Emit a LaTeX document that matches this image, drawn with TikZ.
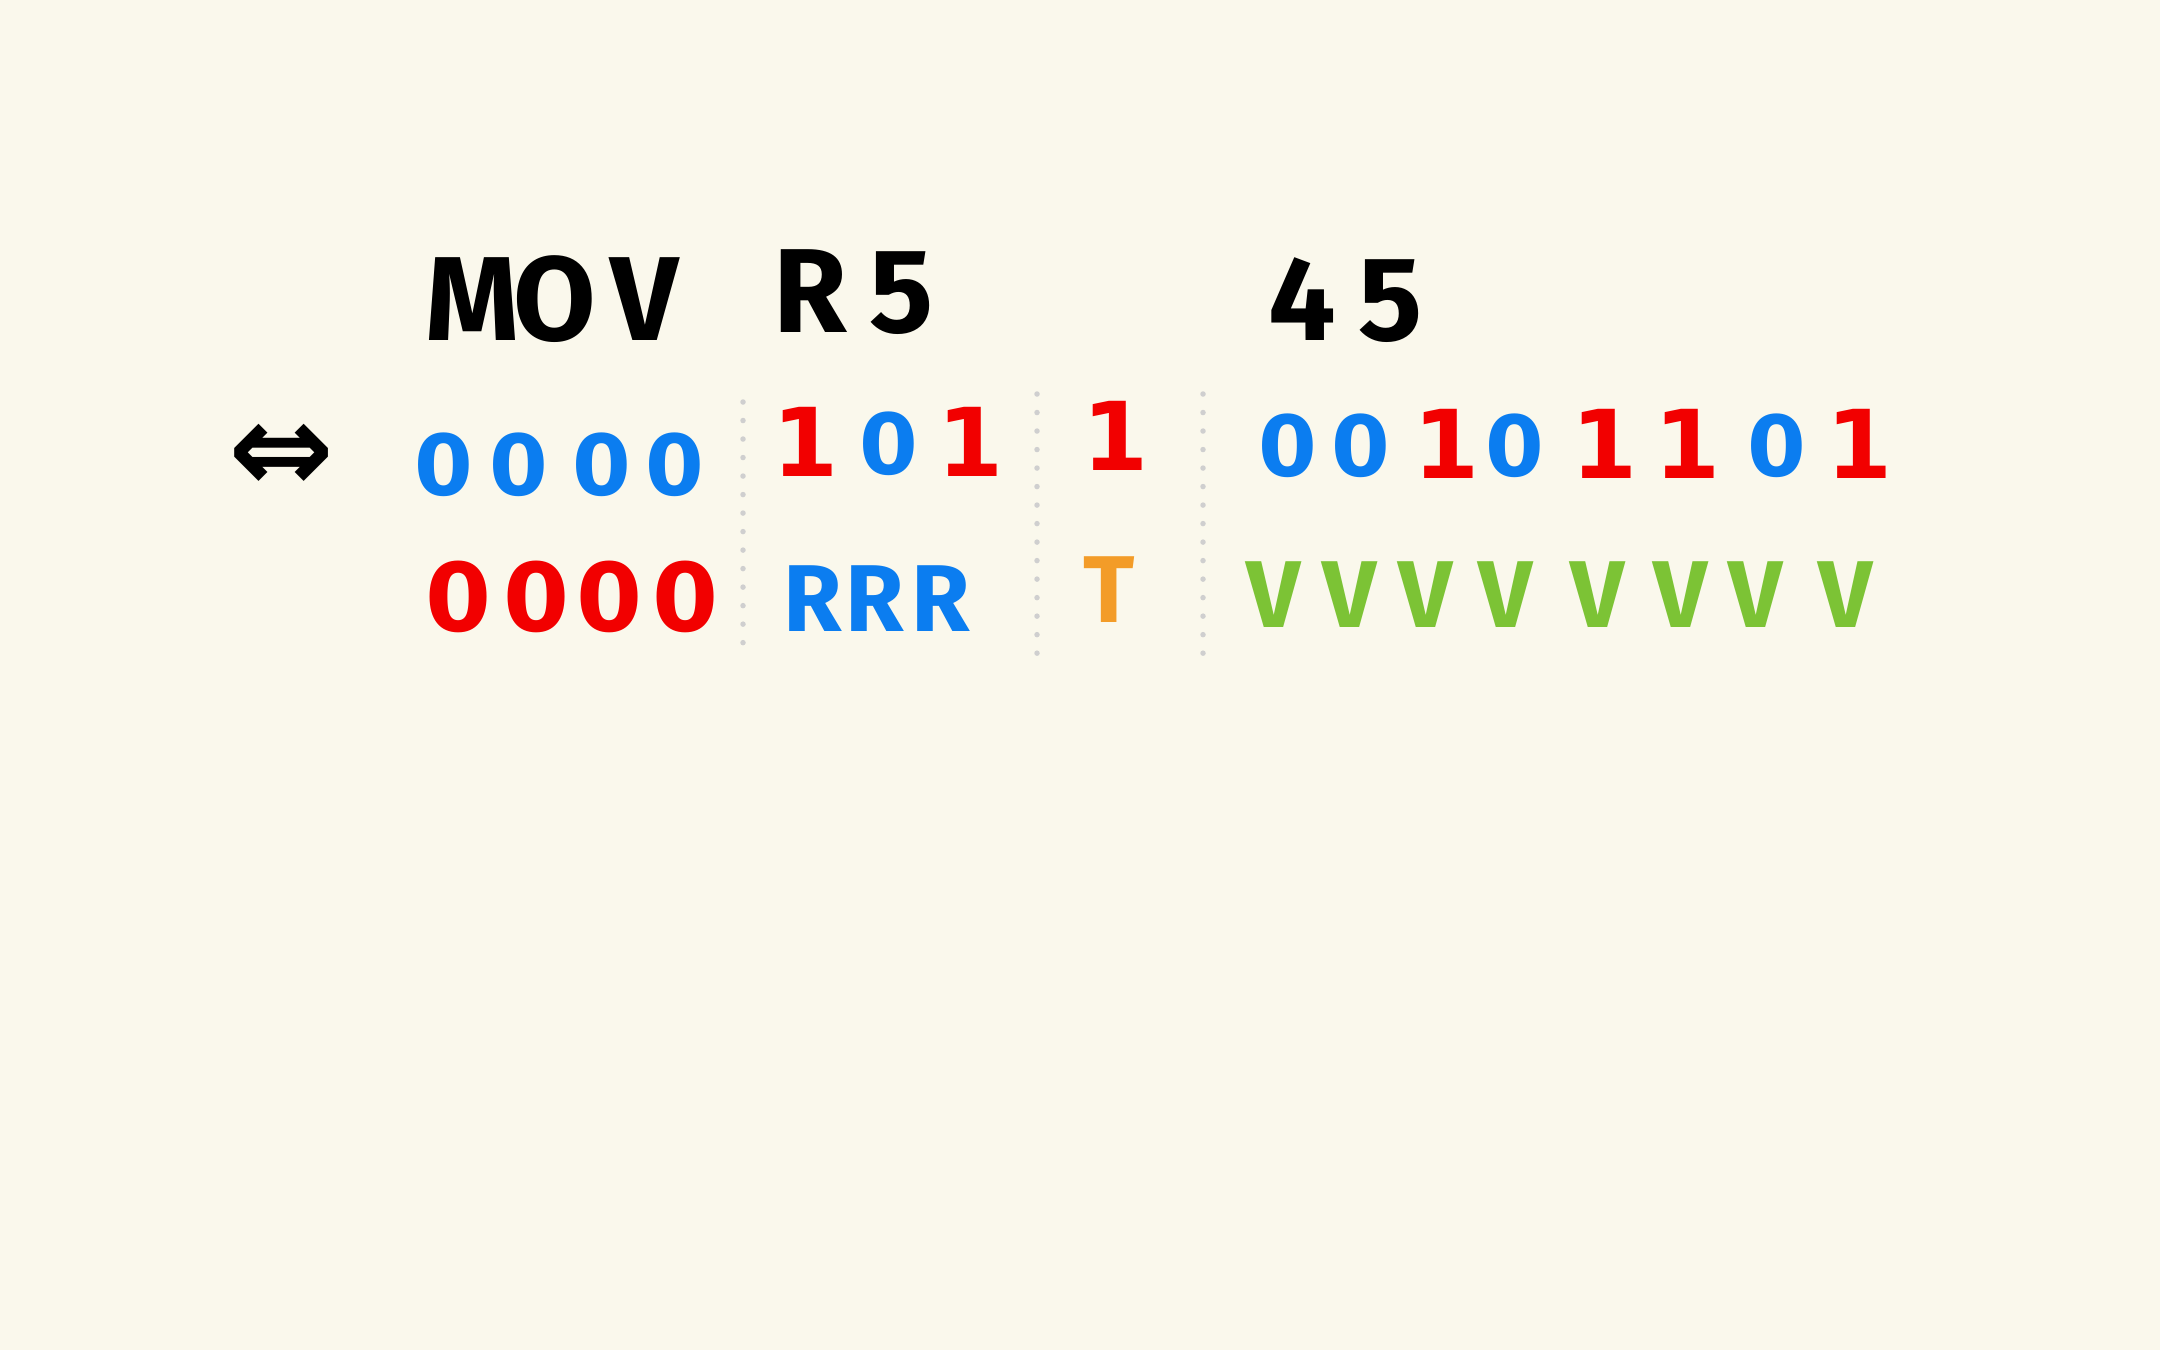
\documentclass[tikz,border=0pt]{standalone}
\usepackage{fontspec}
\setmainfont{Fira Sans}
\newfontfamily\symfont{DejaVu Sans}
\definecolor{bg}{HTML}{FAF8EC}
\definecolor{cblue}{HTML}{0B7DF0}
\definecolor{cred}{HTML}{F20000}
\definecolor{corange}{HTML}{F39C28}
\definecolor{cgreen}{HTML}{7CC335}
\definecolor{cdot}{HTML}{CFCFCF}
\tikzset{
  head/.style={font=\fontsize{34}{40}\selectfont\bfseries, text=black, anchor=base, inner sep=0pt},
  bitA/.style={font=\symfont\fontsize{24}{28}\selectfont\bfseries, anchor=base, inner sep=0pt},
  oneA/.style={font=\symfont\fontsize{27}{30}\selectfont\bfseries, anchor=base, inner sep=0pt, text=cred},
  bitB/.style={font=\symfont\fontsize{27}{32}\selectfont\bfseries, anchor=base, inner sep=0pt},
  letB/.style={font=\fontsize{27}{32}\selectfont\bfseries, anchor=base, inner sep=0pt},
  sep/.style={draw=cdot, line width=0.055cm, line cap=round, dash pattern=on 0pt off 0.185cm}
}
\begin{document}
\begin{tikzpicture}[x=0.01cm,y=-0.01cm]
\fill[bg] (0,0) rectangle (2160,1350);
\useasboundingbox (0,0) rectangle (2160,1350);
% heading
\node[head] (hM) at (472,340) {M};
\node[head] (hO) at (555,340) {O};
\node[head] (hV) at (645,340) {V};
\node[head] (hR) at (810,332) {R};
\node[head] (h5) at (902,332) {5};
\node[head] (f4) at (1302,340) {4};
\node[head] (f5) at (1391,340) {5};
% row 1
\node[anchor=base, inner sep=0pt, font=\symfont\fontsize{36}{40}\selectfont\bfseries] (arr) at (282,492) {⇔};
\foreach \x [count=\i] in {444,519,602,675}
  \node[bitA, text=cblue] (az\i) at (\x,495) {0};
\node[oneA] (b1) at (806,476) {1};
\node[bitA, text=cblue] (b2) at (889,474) {0};
\node[oneA] (b3) at (971,476) {1};
\node[oneA] (c1) at (1116,470) {1};
\foreach \x/\b [count=\i] in {1288/0,1361/0,1447/1,1515/0,1605/1,1688/1,1777/0,1860/1}{
  \ifnum\b=0
    \node[bitA, text=cblue] (d\i) at (\x,476) {0};
  \else
    \node[oneA] (d\i) at (\x,478) {1};
  \fi
}
% row 2
\foreach \x [count=\i] in {459,537,610,686}
  \node[bitB, text=cred] (ez\i) at (\x,631) {0};
\foreach \x [count=\i] in {813,875,941}
  \node[letB, text=cblue] (fr\i) at (\x,631) {R};
\node[letB, text=corange] (gt) at (1109,622) {T};
\foreach \x [count=\i] in {1274,1350,1426,1506,1598,1681,1756,1846}
  \node[letB, text=cgreen] (hv\i) at (\x,627) {V};
% separators
\coordinate (s1t) at (743,402); \coordinate (s1b) at (743,655);
\coordinate (s2t) at (1037,394); \coordinate (s2b) at (1037,658);
\coordinate (s3t) at (1203,394); \coordinate (s3b) at (1203,658);
\draw[sep] (s1t) -- (s1b);
\draw[sep] (s2t) -- (s2b);
\draw[sep] (s3t) -- (s3b);
\end{tikzpicture}
\end{document}
